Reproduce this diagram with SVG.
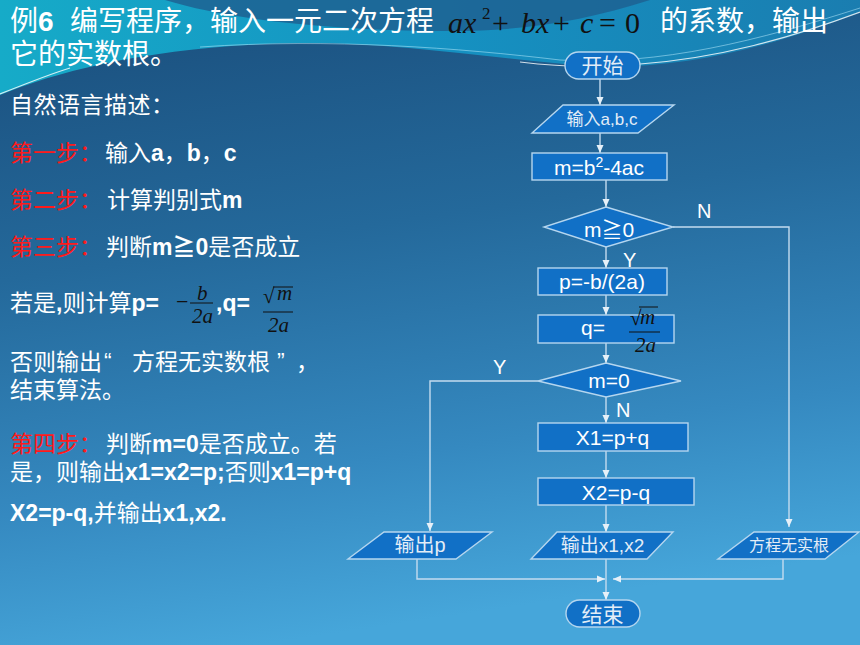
<svg xmlns="http://www.w3.org/2000/svg" width="860" height="645" viewBox="0 0 860 645">
<defs>
<linearGradient id="bg" x1="0.1" y1="0" x2="0.3" y2="1">
<stop offset="0" stop-color="#1a4e7c"/>
<stop offset="0.4" stop-color="#24699b"/>
<stop offset="0.75" stop-color="#3589c0"/>
<stop offset="1" stop-color="#46a6da"/>
</linearGradient>
<linearGradient id="teal" x1="0" y1="0" x2="1" y2="0">
<stop offset="0" stop-color="#16abc8"/>
<stop offset="0.5" stop-color="#1592c2"/>
<stop offset="1" stop-color="#1a7db0"/>
</linearGradient>
<marker id="arr" markerWidth="8" markerHeight="8" refX="8" refY="4" orient="auto" markerUnits="userSpaceOnUse">
<path d="M0,0.5 L8,4 L0,7.5 Z" fill="#e6f0f8"/>
</marker>
<style>
.node{fill:#1170c6;stroke:#b5d6ef;stroke-width:1.4}
.conn{fill:none;stroke:#c4dcef;stroke-width:1.4}
.nt{fill:#ffffff;font-family:"Liberation Sans","Noto Sans CJK SC",sans-serif;font-size:21px;text-anchor:middle}
.nc{fill:#e3edf7;font-family:"Liberation Sans","Noto Sans CJK SC",sans-serif;text-anchor:middle}
.lbl{fill:#ffffff;font-family:"Liberation Sans",sans-serif;font-size:20px}
.t{fill:#ffffff;font-family:"Liberation Sans","Noto Sans CJK SC",sans-serif;font-size:23px}
.r{fill:#ff1a1a;font-family:"Noto Sans CJK SC",sans-serif;font-size:23px}
.b{font-weight:bold}
.m{fill:#111111;font-family:"Liberation Serif",serif;font-style:italic}
.up{font-style:normal}
.title{fill:#ffffff;font-family:"Liberation Sans","Noto Sans CJK SC",sans-serif;font-size:28px}
.bar{stroke:#111111;stroke-width:1}
</style>
</defs>

<g id="background">
<rect x="0" y="0" width="860" height="645" fill="url(#bg)"/>
<path d="M0,0 H860 V12 C790,40 700,68 600,67 C500,60 400,42 300,43 C160,45 60,70 0,95 Z" fill="url(#teal)"/>
<path d="M165,0 C230,20 330,30 440,31 C520,32 580,22 650,0 Z" fill="#1d6292" opacity="0.85"/>
<path d="M0,94 C30,82 50,74 70,68" fill="none" stroke="#ffffff" stroke-width="1.2" opacity="0.8"/>
<path d="M200,47 C330,38 460,48 560,60 C660,66 760,40 860,8" fill="none" stroke="#bff0ff" stroke-width="1" opacity="0.5"/>
<path d="M520,62 C560,67 600,68 640,64 C720,58 790,38 860,12" fill="none" stroke="#ffffff" stroke-width="1.2" opacity="0.8"/>
</g>

<g id="title">
<text class="title" x="10" y="31">例<tspan class="b">6</tspan></text>
<text class="title" x="70" y="31">编写程序，输入一元二次方程</text>
<text class="m" font-size="30" x="448" y="33">ax</text>
<text class="m up" font-size="17" x="482" y="19">2</text>
<text class="m up" font-size="30" x="492" y="33">+</text>
<text class="m" font-size="30" x="521" y="33">bx</text>
<text class="m up" font-size="30" x="553" y="33">+</text>
<text class="m" font-size="30" x="580" y="33">c</text>
<text class="m up" font-size="30" x="599" y="33">=</text>
<text class="m up" font-size="30" x="625" y="33">0</text>
<text class="title" x="660" y="31">的系数，输出</text>
<text class="title" x="10" y="64">它的实数根。</text>
</g>

<g id="description">
<text class="t" x="10" y="113" font-size="22" letter-spacing="0.5">自然语言描述：</text>
<text class="r" x="10" y="161">第一步：</text>
<text class="t" x="105" y="161">输入<tspan class="b">a</tspan>，<tspan class="b">b</tspan>，<tspan class="b">c</tspan></text>
<text class="r" x="10" y="208">第二步：</text>
<text class="t" x="107" y="208">计算判别式<tspan class="b">m</tspan></text>
<text class="r" x="10" y="255">第三步：</text>
<text class="t" x="106" y="255">判断<tspan class="b">m≧0</tspan>是否成立</text>
<text class="t" x="10" y="311">若是<tspan class="b">,</tspan>则计算<tspan class="b">p=</tspan></text>
<text class="m up" font-size="22" x="176" y="309">−</text>
<text class="m" font-size="21" x="197" y="300">b</text>
<line class="bar" x1="190" y1="303" x2="213" y2="303"/>
<text class="m" font-size="21" x="192" y="323">2a</text>
<text class="t b" x="216" y="311">,q=</text>
<text class="m up" font-size="21" x="263" y="303">√</text>
<line class="bar" x1="273" y1="287" x2="293" y2="287"/>
<text class="m" font-size="21" x="277" y="300">m</text>
<line class="bar" x1="263" y1="312" x2="293" y2="312"/>
<text class="m" font-size="21" x="268" y="332">2a</text>
<text class="t" x="10" y="370">否则输出</text>
<text class="t" x="104" y="370">“</text>
<text class="t" x="132" y="370">方程无实数根</text>
<text class="t" x="277" y="370">”</text>
<text class="t" x="296" y="370">，</text>
<text class="t" x="10" y="398">结束算法。</text>
<text class="r" x="10" y="452">第四步：</text>
<text class="t" x="106" y="452">判断<tspan class="b">m=0</tspan>是否成立。若</text>
<text class="t" x="10" y="480">是，则输出<tspan class="b">x1=x2=p;</tspan>否则<tspan class="b">x1=p+q</tspan></text>
<text class="t" x="10" y="521"><tspan class="b">X2=p-q,</tspan>并输出<tspan class="b">x1,x2.</tspan></text>
</g>

<g id="connectors">
<path class="conn" d="M600,79 V105" marker-end="url(#arr)"/>
<path class="conn" d="M600,133 V153" marker-end="url(#arr)"/>
<path class="conn" d="M606,180 V207" marker-end="url(#arr)"/>
<path class="conn" d="M606,247 V268" marker-end="url(#arr)"/>
<path class="conn" d="M606,295 V315" marker-end="url(#arr)"/>
<path class="conn" d="M606,343 V363" marker-end="url(#arr)"/>
<path class="conn" d="M673,227 H789 V527" marker-end="url(#arr)"/>
<path class="conn" d="M538,381 H430 V531" marker-end="url(#arr)"/>
<path class="conn" d="M606,397 V423" marker-end="url(#arr)"/>
<path class="conn" d="M606,451 V478" marker-end="url(#arr)"/>
<path class="conn" d="M606,505 V532" marker-end="url(#arr)"/>
<path class="conn" d="M417,559 V579 H605" marker-end="url(#arr)"/>
<path class="conn" d="M783,559 V579 H613" marker-end="url(#arr)"/>
<path class="conn" d="M606,559 V600" marker-end="url(#arr)"/>
<text class="lbl" x="697" y="218">N</text>
<text class="lbl" x="623" y="267">Y</text>
<text class="lbl" x="493" y="374">Y</text>
<text class="lbl" x="616" y="417">N</text>
</g>

<g id="start">
<rect class="node" x="565" y="52" width="75" height="27" rx="13.5"/>
<text class="nc" x="602.5" y="73" font-size="21">开始</text>
</g>
<g id="input">
<polygon class="node" points="563,105 674,105 638,133 532,133"/>
<text class="nc" x="602" y="125" font-size="17">输入a,b,c</text>
</g>
<g id="calc-m">
<rect class="node" x="532" y="153" width="135" height="27"/>
<text class="nt" x="599" y="175">m=b<tspan font-size="14" dy="-8">2</tspan><tspan dy="8">-4ac</tspan></text>
</g>
<g id="dec-m-ge-0">
<polygon class="node" points="606,207 673,227 606,247 544,227"/>
<text class="nt" x="609" y="237">m≧0</text>
</g>
<g id="calc-p">
<rect class="node" x="538" y="268" width="129" height="27"/>
<text class="nt" x="602" y="289">p=-b/(2a)</text>
</g>
<g id="calc-q">
<rect class="node" x="538" y="315" width="136" height="28"/>
<text class="nt" x="593" y="335" text-anchor="start">q=</text>
<text class="m up" font-size="21" x="630" y="325">√</text>
<line class="bar" x1="639" y1="307" x2="658" y2="307"/>
<text class="m" font-size="21" x="640" y="324">m</text>
<line class="bar" x1="629" y1="332" x2="660" y2="332"/>
<text class="m" font-size="21" x="635" y="352">2a</text>
</g>
<g id="dec-m-eq-0">
<polygon class="node" points="606,363 681,381 606,397 538,381"/>
<text class="nt" x="609" y="388">m=0</text>
</g>
<g id="calc-x1">
<rect class="node" x="538" y="423" width="150" height="28"/>
<text class="nt" x="612.5" y="445">X1=p+q</text>
</g>
<g id="calc-x2">
<rect class="node" x="538" y="478" width="156" height="27"/>
<text class="nt" x="616" y="500">X2=p-q</text>
</g>
<g id="out-p">
<polygon class="node" points="384,532 492,532 456,559 348,559"/>
<text class="nc" x="420" y="552" font-size="20">输出p</text>
</g>
<g id="out-x1x2">
<polygon class="node" points="557,532 673,532 647,559 531,559"/>
<text class="nc" x="602.5" y="552" font-size="19">输出x1,x2</text>
</g>
<g id="out-none">
<polygon class="node" points="754,532 859,532 825,559 718,559"/>
<text class="nc" x="789" y="551" font-size="16">方程无实根</text>
</g>
<g id="end">
<rect class="node" x="566" y="600" width="74" height="27" rx="13.5"/>
<text class="nc" x="602.5" y="622" font-size="21">结束</text>
</g>
</svg>
